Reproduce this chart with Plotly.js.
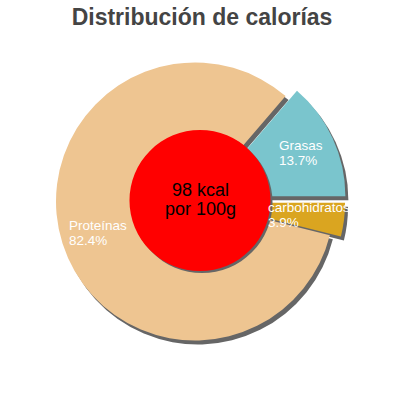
<!DOCTYPE html>
<html>
<head>
<meta charset="utf-8">
<script src="https://cdn.plot.ly/plotly-3.0.1.min.js"></script>
<style>
  html, body { margin: 0; padding: 0; background: #fff; }
  #chart { width: 400px; height: 400px; }
</style>
</head>
<body>
<div id="chart"></div>
<script>
// Calorie split per 100 g (percent of energy)
const labels = ['Grasas', 'carbohidratos', 'Proteínas'];
const percents = [13.7, 3.9, 82.4];
const pulls = [0.09, 0.08, 0];
const colors = ['#7AC5CD', '#DAA520', '#EEC591'];
const kcal = 98;
const kcalText = ['98 kcal', 'por 100g'];

const W = 400, H = 400;
const SHADOW = '#666666';
const FONT = 'Liberation Sans, Arial, sans-serif';

// pie geometry in px
const cx = 195, cy = 201.5, R = 139;
const half = R * (1 + Math.max(...pulls));
// first slice ends at 3 o'clock
const rotation = 90 - percents[0] * 3.6;

// inner disc
const dx0 = 200, dy0 = 200.5, dr = 70.5;

function domainAt(x, y, h, ox = 0, oy = 0) {
    return {
        x: [(x + ox - h) / W, (x + ox + h) / W],
        y: [(H - (y + oy) - h) / H, (H - (y + oy) + h) / H],
    };
}

const pieBase = {
    type: 'pie', values: percents, labels, sort: false,
    direction: 'clockwise', rotation, pull: pulls,
    textinfo: 'none', hoverinfo: 'skip', showlegend: false,
};
const discBase = {
    type: 'pie', values: [kcal], labels: ['kcal'], sort: false,
    textinfo: 'none', hoverinfo: 'skip', showlegend: false,
};

const traces = [
    { ...pieBase, marker: { colors: percents.map(() => SHADOW) }, domain: domainAt(cx, cy, half, 3, 4) },
    { ...pieBase, marker: { colors }, domain: domainAt(cx, cy, half) },
    { ...discBase, marker: { colors: [SHADOW] }, domain: domainAt(dx0, dy0, dr, 2, 2) },
    { ...discBase, marker: { colors: ['#FF0000'] }, domain: domainAt(dx0, dy0, dr) },
];

// slice labels: two tight lines, left aligned, block centred on the bisector
const ctx = document.createElement('canvas').getContext('2d');
ctx.font = '14px "Liberation Sans"';
const annotations = [];
let cum = 0;
percents.forEach((v, i) => {
    const mid = (rotation + (cum + v / 2) * 3.6) * Math.PI / 180;
    cum += v;
    const d = (pulls[i] + 0.74) * R;
    const px = cx + Math.sin(mid) * d;
    const py = cy - Math.cos(mid) * d;
    const w = ctx.measureText(labels[i]).width;
    const base = {
        x: (px - w / 2) / W, y: 1 - py / H, xref: 'paper', yref: 'paper',
        xanchor: 'left', yanchor: 'middle', showarrow: false,
        font: { family: FONT, size: 13.5, color: '#ffffff' },
    };
    annotations.push({ ...base, text: labels[i], yshift: 7.5 });
    annotations.push({ ...base, text: v.toFixed(1) + '%', yshift: -7.5 });
});

kcalText.forEach((t, i) => {
    annotations.push({
        x: dx0 / W, y: 1 - dy0 / H, xref: 'paper', yref: 'paper',
        xanchor: 'center', yanchor: 'middle', showarrow: false,
        text: t, yshift: i === 0 ? 11 : -8,
        font: { family: FONT, size: 18, color: '#000000' },
    });
});

const layout = {
    width: W, height: H,
    margin: { l: 0, r: 0, t: 0, b: 0 },
    paper_bgcolor: '#ffffff',
    title: {
        text: 'Distribución de calorías',
        font: { family: FONT, size: 23, color: '#444444', weight: 'bold' },
        x: 0.505, xanchor: 'center', xref: 'container',
        y: 0.977, yanchor: 'top', yref: 'container',
    },
    annotations,
};

Plotly.newPlot('chart', traces, layout, { staticPlot: true });
</script>
</body>
</html>
